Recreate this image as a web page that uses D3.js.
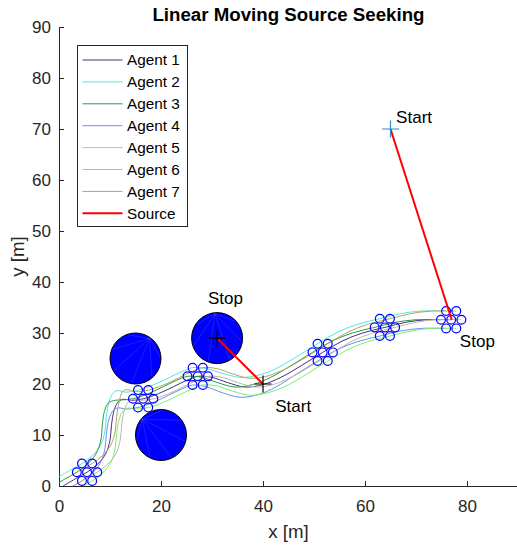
<!DOCTYPE html>
<html>
<head>
<meta charset="utf-8">
<script src="https://cdn.jsdelivr.net/npm/d3@7"></script>
<style>
  body { margin: 0; background: #fff; }
  svg { font-family: "Liberation Sans", Arial, sans-serif; }
  .axis text { font-size: 17px; fill: #262626; font-family: "Liberation Sans", Arial, sans-serif; }
  .axis path, .axis line { stroke: #262626; }
</style>
</head>
<body>
<div id="chart"></div>
<script>
// --- data (metres) ---
const agentNames = ['Agent 1', 'Agent 2', 'Agent 3', 'Agent 4', 'Agent 5', 'Agent 6', 'Agent 7'];

const agent1 = [[0.8,0.0],[3.2,1.4],[5.5,2.7],[7.6,4.3],[9.2,6.4],[10.0,9.0],[10.3,12.0],[10.8,14.8],[11.6,16.5],[12.6,17.0],[14.2,16.8],[16.5,17.1],[19.5,18.1],[22.5,19.5],[25.0,20.7],[27.2,21.5],[30.0,21.3],[33.0,20.3],[36.5,19.4],[40.0,19.9],[43.5,21.3],[47.5,23.6],[51.7,26.2],[55.5,28.4],[59.5,30.0],[63.9,31.1],[68.0,32.1],[72.0,32.6],[76.9,32.6]];
const agent2 = [[-0.2,1.7],[2.2,3.1],[4.5,4.4],[6.6,6.0],[8.2,8.1],[9.0,10.7],[9.3,13.7],[9.8,16.5],[10.6,18.2],[11.4,18.7],[13.0,18.4],[15.5,18.8],[18.5,19.8],[21.5,21.2],[24.0,22.4],[26.2,23.2],[29.0,23.0],[32.0,22.1],[35.5,21.3],[39.0,21.7],[42.5,23.0],[46.5,25.3],[50.7,27.9],[54.5,30.1],[58.5,31.7],[62.9,32.8],[67.0,33.8],[71.0,34.3],[75.9,34.3]];
const agent3 = [[-1.2,0.0],[1.2,1.4],[3.5,2.7],[5.6,4.3],[7.3,6.4],[8.2,9.0],[8.5,12.0],[8.9,14.6],[9.7,16.3],[11.0,16.8],[12.6,16.9],[14.5,17.1],[17.5,18.1],[20.5,19.5],[23.0,20.7],[25.2,21.5],[28.0,21.3],[31.0,20.3],[34.5,19.4],[38.0,19.9],[41.5,21.3],[45.5,23.6],[49.7,26.2],[53.5,28.4],[57.5,30.0],[61.9,31.1],[66.0,32.1],[70.0,32.6],[74.9,32.6]];
const agent4 = [[-0.2,-1.7],[2.2,-0.3],[4.5,1.0],[6.6,2.6],[8.2,4.7],[9.0,7.3],[9.3,10.3],[9.8,13.1],[10.6,14.8],[11.6,15.3],[13.2,15.1],[15.5,15.4],[18.5,16.4],[21.5,17.8],[24.0,19.0],[26.2,19.8],[29.0,19.4],[32.0,18.3],[35.5,17.4],[39.0,17.9],[42.5,19.4],[46.5,21.9],[50.7,24.5],[54.5,26.7],[58.5,28.3],[62.9,29.4],[67.0,30.4],[71.0,30.9],[75.9,30.9]];
const agent5 = [[1.8,-1.7],[4.2,-0.3],[6.5,1.0],[8.6,2.6],[10.2,4.7],[11.0,7.3],[11.3,10.3],[11.8,13.1],[12.6,14.8],[13.6,15.3],[15.2,15.1],[17.5,15.4],[20.5,16.4],[23.5,17.8],[26.0,19.0],[28.2,19.8],[31.0,19.6],[34.0,18.6],[37.5,17.8],[41.0,18.3],[44.5,19.6],[48.5,21.9],[52.7,24.5],[56.5,26.7],[60.5,28.3],[64.9,29.4],[69.0,30.4],[73.0,30.9],[77.9,30.9]];
const agent6 = [[2.8,0.0],[5.2,1.4],[7.5,2.7],[9.6,4.3],[11.2,6.4],[12.0,9.0],[12.3,12.0],[12.8,14.8],[13.6,16.5],[14.6,17.0],[16.2,16.8],[18.5,17.1],[21.5,18.1],[24.5,19.5],[27.0,20.7],[29.2,21.5],[32.0,21.3],[35.0,20.3],[38.5,19.4],[42.0,19.9],[45.5,21.3],[49.5,23.6],[53.7,26.2],[57.5,28.4],[61.5,30.0],[65.9,31.1],[70.0,32.1],[74.0,32.6],[78.9,32.6]];
const agent7 = [[1.8,1.7],[4.2,3.1],[6.5,4.4],[8.6,6.0],[10.2,8.1],[11.0,10.7],[11.3,13.7],[11.8,16.5],[12.4,18.4],[13.2,18.9],[15.0,18.5],[17.5,18.8],[20.5,19.8],[23.5,21.2],[26.0,22.4],[28.2,23.2],[31.0,23.0],[34.0,22.0],[37.5,21.1],[41.0,21.6],[44.5,23.0],[48.5,25.3],[52.7,27.9],[56.5,30.1],[60.5,31.7],[64.9,32.8],[69.0,33.8],[73.0,34.3],[77.9,34.3]];

// samples where the formation is drawn with circles
const snapshotIdx = [2, 11, 15, 22, 25, 28];

const obstacles = [{x: 15, y: 25, r: 5}, {x: 31, y: 29, r: 5}, {x: 20, y: 10, r: 5}];

const sourcePaths = [[[40, 20], [31, 29]], [[65, 70], [77, 32.6]]];

const textLabels = [
  {text: 'Start', x: 66.1, y: 72.4},
  {text: 'Stop', x: 29.2, y: 36.9},
  {text: 'Start', x: 42.4, y: 15.7},
  {text: 'Stop', x: 78.6, y: 28.4}
];

const xTicks = [0, 20, 40, 60, 80];
const yTicks = [0, 10, 20, 30, 40, 50, 60, 70, 80, 90];

// styles
const agentColors = ['#4b2c7f', '#4fe6e6', '#1f9e49', '#6c8ef5', '#78ef6f', '#bdb8a4', '#b5a55a'];
const fanAngles = [55, 95, 140];

class SourceSeekingPlot {

  constructor(_config, _paths) {
    this.config = {
      parentElement: _config.parentElement,
      containerWidth: _config.containerWidth || 517,
      containerHeight: _config.containerHeight || 547,
      margin: _config.margin || {top: 27, right: -1, bottom: 61, left: 59}
    };
    this.paths = _paths;
    this.initVis();
  }

  initVis() {
    let vis = this;

    vis.width = vis.config.containerWidth - vis.config.margin.left - vis.config.margin.right;
    vis.height = vis.config.containerHeight - vis.config.margin.top - vis.config.margin.bottom;

    vis.xScale = d3.scaleLinear().domain([0, 90]).range([0, vis.width]);
    vis.yScale = d3.scaleLinear().domain([0, 90]).range([vis.height, 0]);

    vis.xAxis = d3.axisBottom(vis.xScale)
        .tickValues(xTicks)
        .tickSizeInner(-5)
        .tickSizeOuter(0)
        .tickPadding(14);

    vis.yAxis = d3.axisLeft(vis.yScale)
        .tickValues(yTicks)
        .tickSizeInner(-5)
        .tickSizeOuter(0)
        .tickPadding(8);

    vis.svg = d3.select(vis.config.parentElement).append('svg')
        .attr('width', vis.config.containerWidth)
        .attr('height', vis.config.containerHeight);

    vis.chart = vis.svg.append('g')
        .attr('transform', `translate(${vis.config.margin.left},${vis.config.margin.top})`);

    vis.chart.append('clipPath')
        .attr('id', 'plot-clip')
      .append('rect')
        .attr('width', vis.width)
        .attr('height', vis.height);

    vis.xAxisG = vis.chart.append('g')
        .attr('class', 'axis x-axis')
        .attr('transform', `translate(0,${vis.height})`);

    vis.yAxisG = vis.chart.append('g')
        .attr('class', 'axis y-axis');

    // title + axis titles
    vis.svg.append('text')
        .attr('x', vis.config.margin.left + vis.width / 2)
        .attr('y', 21)
        .attr('text-anchor', 'middle')
        .style('font-size', '18.7px')
        .style('font-weight', 'bold')
        .attr('fill', '#000')
        .text('Linear Moving Source Seeking');

    vis.svg.append('text')
        .attr('x', vis.config.margin.left + vis.width / 2)
        .attr('y', 538)
        .attr('text-anchor', 'middle')
        .style('font-size', '18.7px')
        .attr('fill', '#262626')
        .text('x [m]');

    vis.svg.append('text')
        .attr('transform', `translate(24,${vis.config.margin.top + vis.height / 2}) rotate(-90)`)
        .attr('text-anchor', 'middle')
        .style('font-size', '18.7px')
        .attr('fill', '#262626')
        .text('y [m]');

    vis.renderVis();
  }

  renderVis() {
    let vis = this;
    const x = vis.xScale, y = vis.yScale;
    const unit = x(1) - x(0);

    vis.xAxisG.call(vis.xAxis);
    vis.yAxisG.call(vis.yAxis);

    const line = d3.line()
        .x(d => x(d[0]))
        .y(d => y(d[1]))
        .curve(d3.curveCatmullRom.alpha(0.5));

    // agent trajectories
    vis.chart.append('g')
        .attr('clip-path', 'url(#plot-clip)')
      .selectAll('.traj')
        .data(vis.paths)
        .join('path')
        .attr('class', 'traj')
        .attr('d', line)
        .attr('fill', 'none')
        .attr('stroke', (d, i) => agentColors[i])
        .attr('stroke-width', 1);

    // obstacles
    const obs = vis.chart.selectAll('.obstacle')
        .data(obstacles)
        .join('g')
        .attr('class', 'obstacle');

    obs.append('circle')
        .attr('cx', d => x(d.x))
        .attr('cy', d => y(d.y))
        .attr('r', d => d.r * unit)
        .attr('fill', '#0000ff')
        .attr('stroke', '#000')
        .attr('stroke-width', 1);

    // faint fan lines from the patch triangulation
    obs.each(function(d, i) {
      const a0 = fanAngles[i] * Math.PI / 180;
      const rr = d.r * unit - 1;
      const cx = x(d.x), cy = y(d.y);
      const g = d3.select(this);
      for (let k = 1; k < 7; k++) {
        const a = a0 + k * Math.PI / 3.5;
        g.append('line')
            .attr('x1', cx + rr * Math.cos(a0)).attr('y1', cy - rr * Math.sin(a0))
            .attr('x2', cx + rr * Math.cos(a)).attr('y2', cy - rr * Math.sin(a))
            .attr('stroke', '#9aa4ff')
            .attr('stroke-opacity', 0.3)
            .attr('stroke-width', 0.6);
      }
    });

    // formation snapshots
    const snaps = [];
    vis.paths.forEach(p => snapshotIdx.forEach(k => snaps.push(p[k])));
    vis.chart.selectAll('.snap')
        .data(snaps)
        .join('circle')
        .attr('class', 'snap')
        .attr('cx', d => x(d[0]))
        .attr('cy', d => y(d[1]))
        .attr('r', 4.4)
        .attr('fill', 'none')
        .attr('stroke', '#0000ff')
        .attr('stroke-width', 1.2);

    // moving source
    vis.chart.selectAll('.source')
        .data(sourcePaths)
        .join('path')
        .attr('class', 'source')
        .attr('d', d3.line().x(d => x(d[0])).y(d => y(d[1])))
        .attr('fill', 'none')
        .attr('stroke', '#ff0000')
        .attr('stroke-width', 2);

    const crosses = [
      {p: sourcePaths[0][0], c: '#000'},
      {p: sourcePaths[0][1], c: '#000'},
      {p: sourcePaths[1][0], c: '#2f8ad8'}
    ];
    vis.chart.selectAll('.cross')
        .data(crosses)
        .join('path')
        .attr('class', 'cross')
        .attr('d', d => {
          const cx = x(d.p[0]), cy = y(d.p[1]), s = 8.5;
          return `M${cx - s},${cy}H${cx + s}M${cx},${cy - s}V${cy + s}`;
        })
        .attr('stroke', d => d.c)
        .attr('stroke-width', 1.2);

    vis.chart.selectAll('.note')
        .data(textLabels)
        .join('text')
        .attr('class', 'note')
        .attr('x', d => x(d.x))
        .attr('y', d => y(d.y))
        .attr('dy', '0.35em')
        .style('font-size', '17px')
        .attr('fill', '#000')
        .text(d => d.text);

    // legend
    const items = agentNames.map((n, i) => ({name: n, color: agentColors[i], w: 1}))
        .concat([{name: 'Source', color: '#ff0000', w: 2}]);
    const legend = vis.svg.append('g').attr('transform', 'translate(77.5,45.5)');
    legend.append('rect')
        .attr('width', 110)
        .attr('height', 181)
        .attr('fill', '#fff')
        .attr('stroke', '#262626')
        .attr('stroke-width', 1);
    const row = legend.selectAll('.item')
        .data(items)
        .join('g')
        .attr('class', 'item')
        .attr('transform', (d, i) => `translate(0,${14.5 + i * 21.9})`);
    row.append('line')
        .attr('x1', 5).attr('x2', 45)
        .attr('stroke', d => d.color)
        .attr('stroke-width', d => d.w);
    row.append('text')
        .attr('x', 49.5)
        .attr('dy', '0.35em')
        .style('font-size', '15.3px')
        .attr('fill', '#000')
        .text(d => d.name);
  }
}

const plot = new SourceSeekingPlot({parentElement: '#chart'},
    [agent1, agent2, agent3, agent4, agent5, agent6, agent7]);
</script>
</body>
</html>
